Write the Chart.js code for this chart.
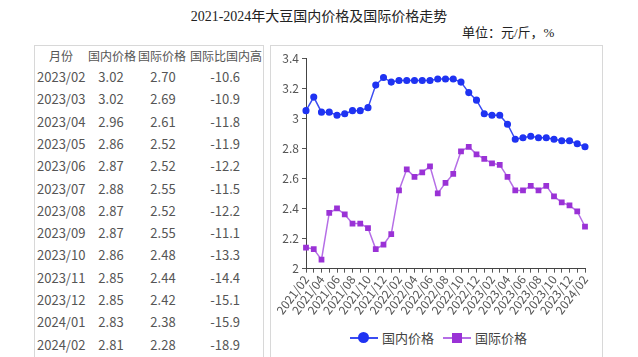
<!DOCTYPE html>
<html>
<head>
<meta charset="utf-8">
<script src="https://cdn.jsdelivr.net/npm/chart.js@4"></script>
<style>
  html, body { margin: 0; padding: 0; background: #fff; width: 638px; height: 357px; overflow: hidden; }
  #title { position: absolute; left: 0; width: 638px; top: 5px; text-align: center; font-family: "Liberation Serif", "Noto Sans CJK SC", serif; font-size: 14px; color: #222; }
  #unit { position: absolute; left: 462px; top: 22px; font-family: "Liberation Serif", "Noto Sans CJK SC", serif; font-size: 13px; color: #222; }
  #tbl { position: absolute; left: 34px; top: 45px; width: 228px; height: 314px; border: 1px solid #d8d8d8; border-bottom: none; font-family: "Noto Sans CJK SC", sans-serif; font-size: 13px; color: #555; }
  .cell { position: absolute; white-space: nowrap; line-height: 16px; }
  .hd { font-size: 12px; }
  #box { position: absolute; left: 270px; top: 45px; width: 331px; height: 314px; border: 1px solid #d8d8d8; border-bottom: none; }
  #wrap { position: absolute; left: 0; top: 0; width: 331px; height: 271px; }
  #legend { position: absolute; left: 0; top: 283px; width: 331px; height: 20px; font-family: "Noto Sans CJK SC", sans-serif; font-size: 13px; color: #444; }
  .lg { position: absolute; top: 0; line-height: 18px; white-space: nowrap; }
  .ln { position: absolute; top: 8px; width: 28px; height: 2px; }
  .mk { position: absolute; }
</style>
</head>
<body>
<div id="title">2021-2024年大豆国内价格及国际价格走势</div>
<div id="unit">单位：元/斤，%</div>
<div id="tbl"></div>
<div id="box">
  <div id="wrap"><canvas id="c"></canvas></div>
  <div id="legend"></div>
</div>
<script>
const months = ["2021/02","2021/03","2021/04","2021/05","2021/06","2021/07","2021/08","2021/09","2021/10","2021/11","2021/12",
  "2022/01","2022/02","2022/03","2022/04","2022/05","2022/06","2022/07","2022/08","2022/09","2022/10","2022/11","2022/12",
  "2023/01","2023/02","2023/03","2023/04","2023/05","2023/06","2023/07","2023/08","2023/09","2023/10","2023/11","2023/12",
  "2024/01","2024/02"];
const domestic = [3.05,3.14,3.04,3.04,3.02,3.03,3.05,3.05,3.07,3.22,3.27,
  3.24,3.25,3.25,3.25,3.25,3.25,3.26,3.26,3.26,3.24,3.17,3.12,
  3.03,3.02,3.02,2.96,2.86,2.87,2.88,2.87,2.87,2.86,2.85,2.85,
  2.83,2.81];
const international = [2.14,2.13,2.06,2.37,2.40,2.36,2.30,2.30,2.27,2.13,2.16,
  2.23,2.52,2.66,2.61,2.64,2.68,2.50,2.57,2.63,2.78,2.81,2.76,
  2.73,2.70,2.69,2.61,2.52,2.52,2.55,2.52,2.55,2.48,2.44,2.42,
  2.38,2.28];
const tableHeaders = ["月份","国内价格","国际价格","国际比国内高"];
const tableMonths = ["2023/02","2023/03","2023/04","2023/05","2023/06","2023/07","2023/08","2023/09","2023/10","2023/11","2023/12","2024/01","2024/02"];
const tableDomestic = [3.02,3.02,2.96,2.86,2.87,2.88,2.87,2.87,2.86,2.85,2.85,2.83,2.81];
const tableInternational = [2.70,2.69,2.61,2.52,2.52,2.55,2.52,2.55,2.48,2.44,2.42,2.38,2.28];
const tableRatio = [-10.6,-10.9,-11.8,-11.9,-12.2,-11.5,-12.2,-11.1,-13.3,-14.4,-15.1,-15.9,-18.9];
const seriesNames = ["国内价格","国际价格"];

const BLUE = "#1f33f2", BLUE_LINE = "#3a4cf2";
const PURPLE = "#9a32d6", PURPLE_LINE = "#b56ee6";

// table
const tbl = document.getElementById("tbl");
function addCell(text, x, y, align, cls) {
  const d = document.createElement("div");
  d.className = "cell" + (cls ? " " + cls : "");
  d.textContent = text;
  d.style.top = (y - 8) + "px";
  if (align === "left") d.style.left = x + "px";
  else if (align === "right") d.style.right = (228 - x) + "px";
  else { d.style.left = (x - 40) + "px"; d.style.width = "80px"; d.style.textAlign = "center"; }
  tbl.appendChild(d);
}
addCell(tableHeaders[0], 14, 10, "left", "hd");
addCell(tableHeaders[1], 53, 10, "left", "hd");
addCell(tableHeaders[2], 103, 10, "left", "hd");
addCell(tableHeaders[3], 155, 10, "left", "hd");
tableMonths.forEach((m, i) => {
  const y = 31 + i * 22.3;
  addCell(m, 2, y, "left");
  addCell(tableDomestic[i].toFixed(2), 76, y, "center");
  addCell(tableInternational[i].toFixed(2), 128, y, "center");
  addCell(tableRatio[i].toFixed(1), 205, y, "right");
});

// legend
const lg = document.getElementById("legend");
lg.innerHTML =
  '<div class="ln" style="left:79px;background:' + BLUE_LINE + '"></div>' +
  '<div class="mk" style="left:87px;top:3px;width:11px;height:11px;border-radius:50%;background:' + BLUE + '"></div>' +
  '<div class="lg" style="left:111px">' + seriesNames[0] + '</div>' +
  '<div class="ln" style="left:172px;background:' + PURPLE_LINE + '"></div>' +
  '<div class="mk" style="left:181px;top:4px;width:10px;height:10px;background:' + PURPLE + '"></div>' +
  '<div class="lg" style="left:204px">' + seriesNames[1] + '</div>';

new Chart(document.getElementById("c"), {
  type: "line",
  data: {
    labels: months,
    datasets: [
      { label: seriesNames[0], data: domestic, borderColor: BLUE_LINE, backgroundColor: BLUE, pointBackgroundColor: BLUE, pointBorderColor: BLUE,
        pointStyle: "circle", pointRadius: 2.8, borderWidth: 1.5, tension: 0 },
      { label: seriesNames[1], data: international, borderColor: PURPLE_LINE, backgroundColor: PURPLE, pointBackgroundColor: PURPLE, pointBorderColor: PURPLE,
        pointStyle: "rect", pointRadius: 3, borderWidth: 1.5, tension: 0 }
    ]
  },
  options: {
    responsive: true,
    maintainAspectRatio: false,
    animation: false,
    layout: { padding: { top: 12, right: 17, left: 4, bottom: 0 } },
    plugins: { legend: { display: false }, tooltip: { enabled: false } },
    scales: {
      x: {
        offset: false,
        grid: { display: true, drawOnChartArea: false, drawTicks: true, tickLength: 4, color: "#555" },
        border: { display: true, color: "#444", width: 1 },
        ticks: {
          autoSkip: false, minRotation: 53, maxRotation: 53, padding: 0,
          color: "#555", font: { family: "Noto Sans CJK SC, sans-serif", size: 12 },
          callback: function(v, i) { return i % 2 === 0 ? this.getLabelForValue(v) : ""; }
        }
      },
      y: {
        min: 2, max: 3.4,
        afterFit: (s) => { s.width = 31; },
        grid: { display: true, drawOnChartArea: false, drawTicks: true, tickLength: 4, color: "#555" },
        border: { display: true, color: "#444", width: 1 },
        ticks: { stepSize: 0.2, padding: 3, color: "#555", font: { family: "Noto Sans CJK SC, sans-serif", size: 12 },
          callback: (v) => String(+Number(v).toFixed(1)) }
      }
    }
  }
});
</script>
</body>
</html>
